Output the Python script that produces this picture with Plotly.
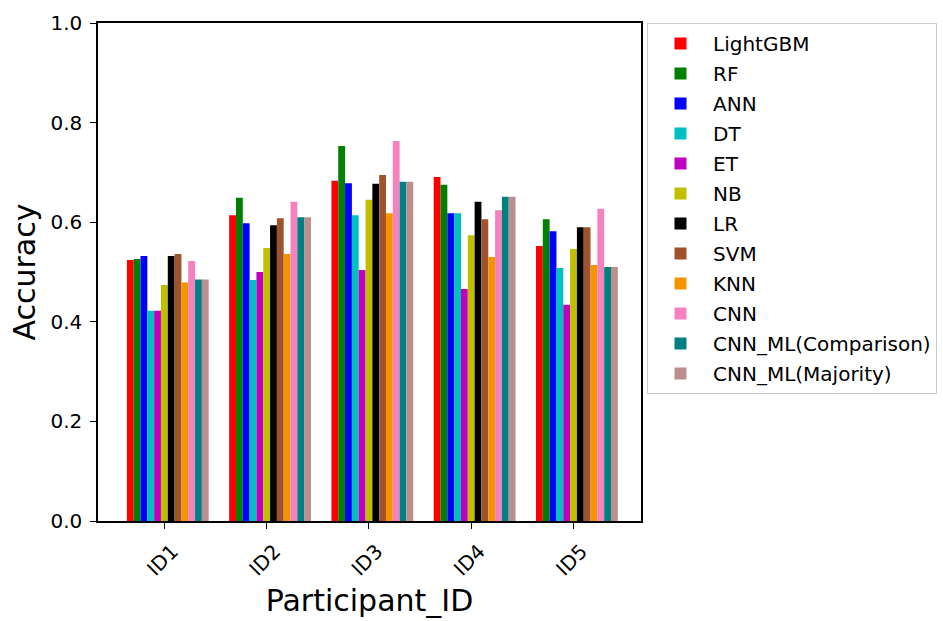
import plotly.graph_objects as go

participants = ["ID1", "ID2", "ID3", "ID4", "ID5"]
models = ["LightGBM", "RF", "ANN", "DT", "ET", "NB", "LR", "SVM", "KNN", "CNN",
          "CNN_ML(Comparison)", "CNN_ML(Majority)"]
colors = ["#ff0000", "#008000", "#0000ff", "#00bfbf", "#bf00bf", "#bfbf00",
          "#000000", "#a0522d", "#f39400", "#f781bf", "#008080", "#bc8f8f"]

lightgbm = [0.524, 0.614, 0.683, 0.691, 0.552]
rf = [0.526, 0.649, 0.753, 0.675, 0.606]
ann = [0.532, 0.598, 0.678, 0.618, 0.582]
dt = [0.422, 0.484, 0.614, 0.618, 0.508]
et = [0.422, 0.500, 0.504, 0.466, 0.434]
nb = [0.474, 0.548, 0.645, 0.574, 0.546]
lr = [0.532, 0.594, 0.677, 0.641, 0.590]
svm = [0.536, 0.608, 0.695, 0.606, 0.590]
knn = [0.479, 0.536, 0.618, 0.530, 0.514]
cnn = [0.522, 0.641, 0.763, 0.624, 0.627]
cnn_ml_comp = [0.485, 0.610, 0.681, 0.651, 0.510]
cnn_ml_maj = [0.485, 0.610, 0.681, 0.651, 0.510]

series = [lightgbm, rf, ann, dt, et, nb, lr, svm, knn, cnn, cnn_ml_comp, cnn_ml_maj]

font = "DejaVu Sans"
n = len(models)
w = 0.8 / n
fig = go.Figure()
for i, (name, vals, col) in enumerate(zip(models, series, colors)):
    fig.add_trace(go.Bar(x=participants, y=vals, name=name, marker_color=col,
                         marker_line_width=0, width=w,
                         offset=-0.4 + w / 2 + i * w,
                         legendgroup=f"g{i}"))

W, L = 943, 98
plot_w = 543
inner_w = W - L
fig.update_layout(
    width=W, height=621,
    margin=dict(l=L, r=0, t=23, b=100),
    barmode="overlay",
    plot_bgcolor="white", paper_bgcolor="white",
    font=dict(family=font, size=20, color="black"),
    legend=dict(x=549 / inner_w, y=1.0, xanchor="left", yanchor="top",
                bordercolor="#cccccc", borderwidth=1,
                font=dict(family=font, size=20), tracegroupgap=1,
                itemwidth=55),
    showlegend=True,
)
fig.update_xaxes(
    domain=[0, plot_w / inner_w],
    range=[-0.649, 4.66], showline=True, linecolor="black", linewidth=1.5,
    mirror=True, ticks="outside", ticklen=6, tickcolor="black", tickangle=-45,
    tickfont=dict(size=20), ticklabelshift=8, ticklabelstandoff=3,
    title=dict(text="Participant_ID", font=dict(size=30), standoff=11),
)
fig.update_yaxes(
    range=[0, 1.0], showline=True, linecolor="black", linewidth=1.5,
    mirror=True, ticks="outside", ticklen=6, tickcolor="black",
    tickvals=[0, 0.2, 0.4, 0.6, 0.8, 1.0], ticktext=["0.0", "0.2", "0.4", "0.6", "0.8", "1.0"],
    showgrid=False, zeroline=False, tickfont=dict(size=20), ticklabelstandoff=4,
    title=dict(text="Accuracy", font=dict(size=30), standoff=6),
)

fig.write_html("out.html")
